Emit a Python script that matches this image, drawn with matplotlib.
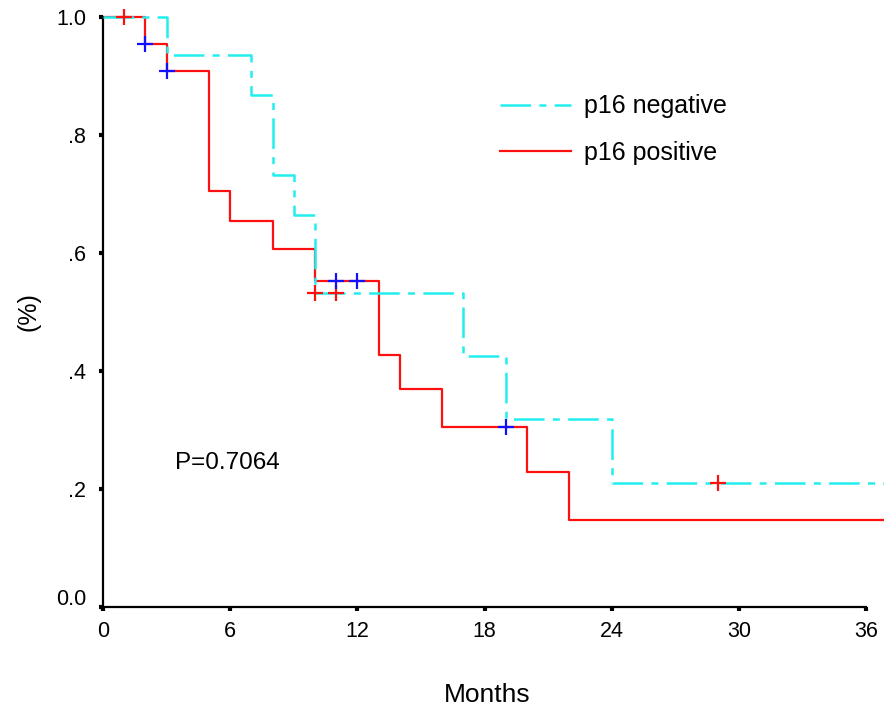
import matplotlib
matplotlib.use("Agg")
import matplotlib.pyplot as plt
import matplotlib.transforms as mtransforms

plt.rcParams['font.family'] = ['Liberation Sans', 'DejaVu Sans']
plt.rcParams['lines.scale_dashes'] = False

# Kaplan-Meier steps
neg_times = [0, 3, 7, 8, 9, 10, 17, 19, 24, 37]
neg_surv = [1.0, 0.936, 0.867, 0.733, 0.664, 0.532, 0.425, 0.319, 0.21, 0.21]
pos_times = [0, 2, 3, 5, 6, 8, 10, 13, 14, 16, 20, 22, 37]
pos_surv = [1.0, 0.955, 0.909, 0.705, 0.655, 0.607, 0.553, 0.427, 0.37, 0.305, 0.229, 0.148, 0.148]

# censored cases
neg_cens_t = [1, 10, 11, 29]
neg_cens_s = [1.0, 0.532, 0.532, 0.21]
pos_cens_t = [2, 3, 11, 12, 19]
pos_cens_s = [0.955, 0.909, 0.553, 0.553, 0.305]

x_ticks = [0, 6, 12, 18, 24, 30, 36]
y_ticks = [0.0, 0.2, 0.4, 0.6, 0.8, 1.0]
y_labels = ['0.0', '.2', '.4', '.6', '.8', '1.0']
p_text = 'P=0.7064'

cyan = '#22EEEE'
red = '#FF1010'
blue = '#1010FF'

fig = plt.figure(figsize=(8.84, 7.15), dpi=100)
ax = fig.add_axes([103 / 884, 1 - 607 / 715, 1 - 103 / 884, 607 / 715])

ax.step(pos_times, pos_surv, where='post', color=red, lw=1.6, zorder=2, label='p16 positive')
ax.step(neg_times, neg_surv, where='post', color=cyan, lw=1.8, zorder=3,
        dashes=(22, 6, 5, 6), label='p16 negative')
ax.plot(neg_cens_t, neg_cens_s, '+', color=red, ms=11, mew=1.6, zorder=4, clip_on=False)
ax.plot(pos_cens_t, pos_cens_s, '+', color=blue, ms=11, mew=1.6, zorder=4, clip_on=False)

ax.set_xlim(0, (884 - 103) / ((866 - 103) / 36))
ax.set_ylim(0, 1 + 17 / 590)

for s in ['top', 'right']:
    ax.spines[s].set_visible(False)
ax.spines['left'].set_bounds(0, 1)
ax.spines['bottom'].set_bounds(0, 36)
ax.spines['left'].set_linewidth(1.6)
ax.spines['bottom'].set_linewidth(1.6)

ax.set_xticks(x_ticks)
ax.set_yticks(y_ticks)
ax.set_yticklabels(y_labels)
ax.tick_params(axis='both', direction='out', length=3, width=3, labelsize=15.5)
ax.tick_params(axis='x', pad=7)
ax.tick_params(axis='y', pad=9)

# SPSS puts the 0.0 label a bit above the axis
lab0 = ax.get_yticklabels()[0]
lab0.set_transform(lab0.get_transform() + mtransforms.ScaledTranslation(0, 10 / 100, fig.dpi_scale_trans))

ax.text(3.4, 0.244, p_text, fontsize=17.5, va='center', ha='left')

fig.text(487 / 884, 1 - 695 / 715, 'Months', fontsize=19, ha='center', va='center')
fig.text(28 / 884, 1 - 312 / 715, '(%)', fontsize=18, ha='center', va='center', rotation=90)

handles, labels = ax.get_legend_handles_labels()
ax.legend(handles[::-1], labels[::-1], loc='upper left', frameon=False, fontsize=18,
          bbox_to_anchor=(487 / 884, 1 - 82 / 715), bbox_transform=fig.transFigure,
          handlelength=2.85, handletextpad=0.55, labelspacing=0.9, borderpad=0)

fig.savefig('out.png', dpi=100)
